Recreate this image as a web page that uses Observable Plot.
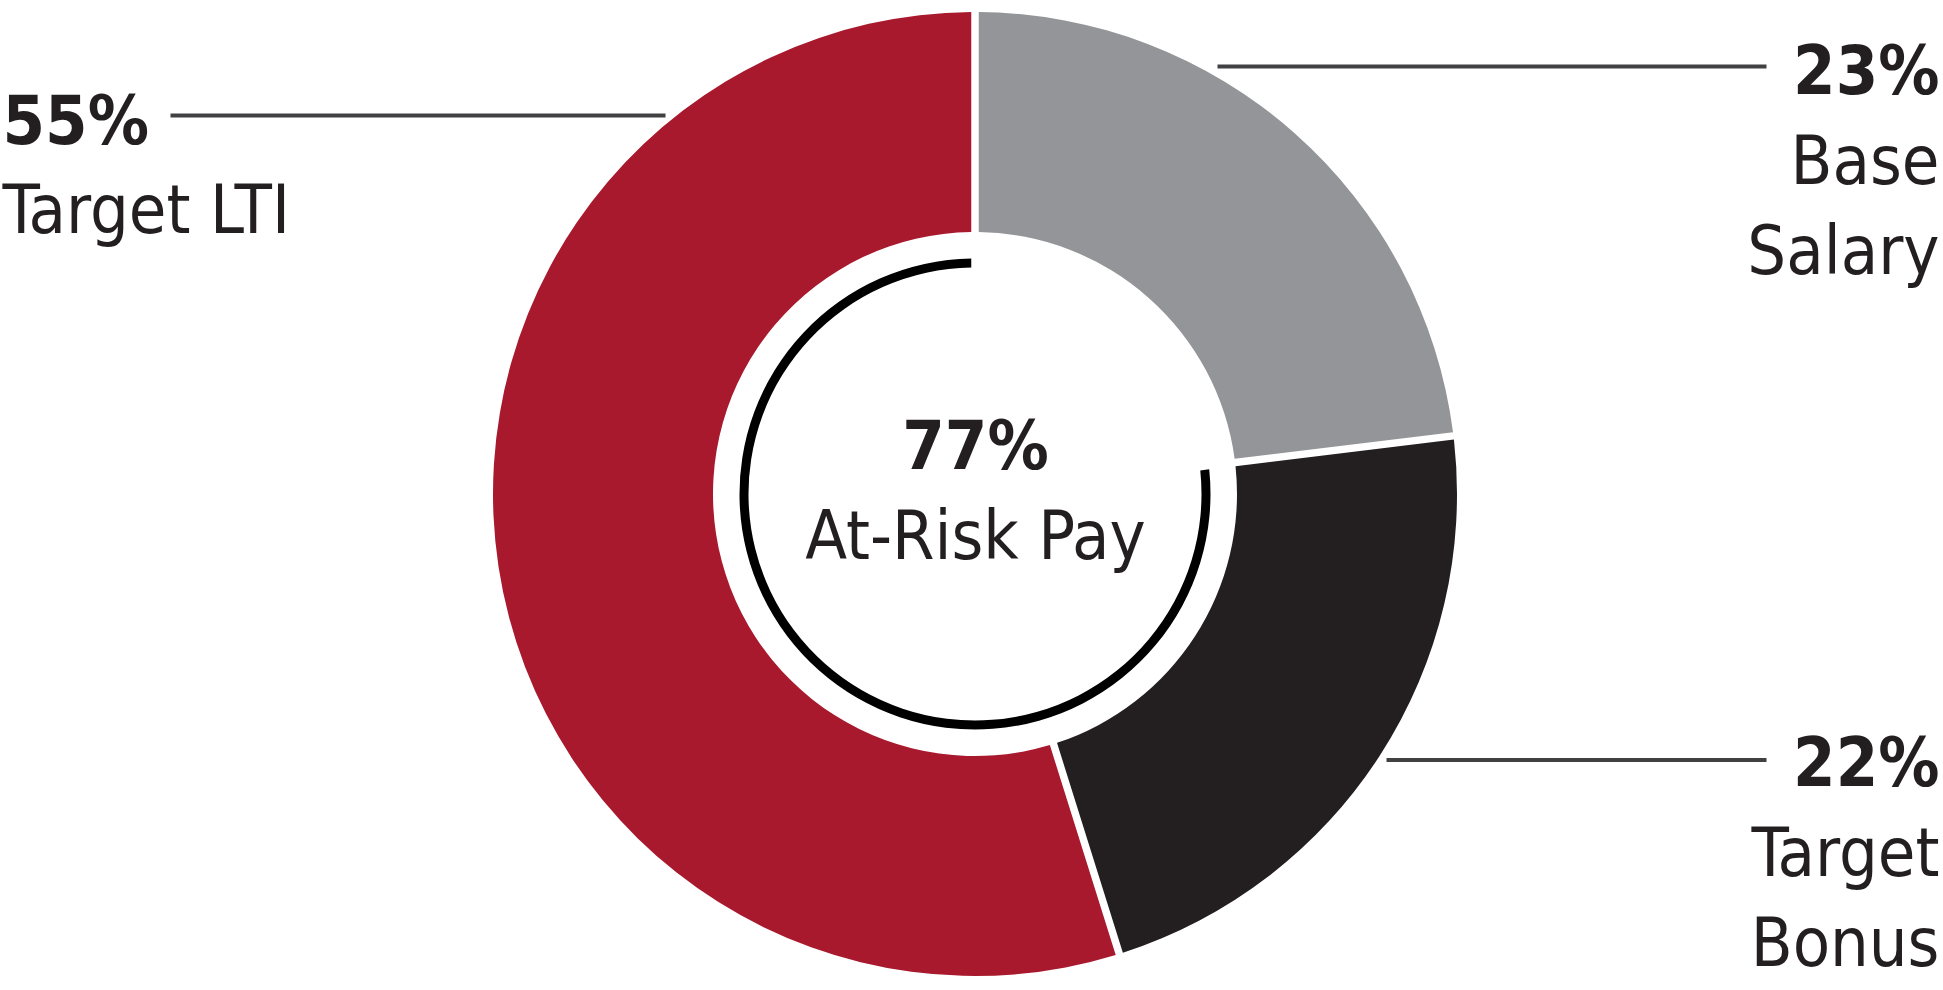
<!DOCTYPE html>
<html><head><meta charset="utf-8">
<script src="https://cdn.jsdelivr.net/npm/d3@7"></script>
<script src="https://cdn.jsdelivr.net/npm/@observablehq/plot@0.6"></script>
<style>
html,body{margin:0;padding:0;background:#fff;}
#chart svg{display:block;}
</style></head><body><div id="chart"></div>
<script>
// ---- data ----
const categories = ["Base Salary", "Target Bonus", "Target LTI"];
const values = [23, 22, 55];
const colors = ["#939598", "#231F20", "#A8192E"];
const labelLines = ["Base\nSalary", "Target\nBonus", "Target LTI"];
const centerValue = 77;
const centerLabel = "At-Risk Pay";

// ---- layout ----
const W = 1943, H = 990;
const cx = 975, cy = 494, R = 482, r0 = 262, ringR = 231, ringW = 9, gap = 7.5;
const layout = {
  "Base Salary":  {anchor: "end",   x: 1939, pctY: 93,  nameY: 273, lx1: 1217, lx2: 1766, ly: 66},
  "Target Bonus": {anchor: "end",   x: 1939, pctY: 785, nameY: 965, lx1: 1386, lx2: 1766, ly: 759.5},
  "Target LTI":   {anchor: "start", x: 2,    pctY: 143, nameY: 232, lx1: 170,  lx2: 665,  ly: 115}
};

const data = categories.map((c, i) => ({category: c, value: values[i], color: colors[i], label: labelLines[i]}));
const pie = d3.pie().sort(null).value(d => d.value).padAngle(gap / R);
const arcs = pie(data);

function donutMark(index, scales) {
  const g = d3.create("svg:g");
  const X = scales.x(cx), Y = scales.y(cy);
  const arc = d3.arc().innerRadius(r0).outerRadius(R).padRadius(R);
  g.selectAll("path.slice").data(arcs).join("path")
    .attr("class", "slice")
    .attr("transform", `translate(${X},${Y})`)
    .attr("d", arc)
    .attr("fill", d => d.data.color);
  // at-risk ring: covers all slices except base salary
  const riskStart = arcs[1].startAngle;
  const ringArc = d3.arc().innerRadius(ringR - ringW / 2).outerRadius(ringR + ringW / 2).padRadius(R);
  g.append("path")
    .attr("transform", `translate(${X},${Y})`)
    .attr("d", ringArc({startAngle: riskStart, endAngle: 2 * Math.PI, padAngle: gap / R}))
    .attr("fill", "#000");
  return g.node();
}

const FS = 68;
const textFill = "#231F20";
const L = d => layout[d.category];

const chart = Plot.plot({
  width: W, height: H,
  margin: 0,
  x: {domain: [0, W], range: [0, W], axis: null},
  y: {domain: [0, H], range: [0, H], axis: null},
  style: {fontFamily: "'DejaVu Sans Condensed', 'DejaVu Sans', sans-serif", fontStretch: "condensed", background: "#fff"},
  marks: [
    donutMark,
    Plot.link(data, {x1: d => L(d).lx1, x2: d => L(d).lx2, y1: d => L(d).ly, y2: d => L(d).ly, stroke: "#414042", strokeWidth: 4}),
    // percent labels
    Plot.text(data.filter(d => L(d).anchor === "end"), {x: d => L(d).x, y: d => L(d).pctY, text: d => d.value + "%", textAnchor: "end", lineAnchor: "bottom", fontSize: FS, fontWeight: "bold", fill: textFill, ariaLabel: "pct"}),
    Plot.text(data.filter(d => L(d).anchor === "start"), {x: d => L(d).x, y: d => L(d).pctY, text: d => d.value + "%", textAnchor: "start", lineAnchor: "bottom", fontSize: FS, fontWeight: "bold", fill: textFill, ariaLabel: "pct"}),
    // category names
    Plot.text(data.filter(d => L(d).anchor === "end"), {x: d => L(d).x, y: d => L(d).nameY, text: "label", textAnchor: "end", lineAnchor: "bottom", lineHeight: 90 / FS, fontSize: FS, fill: textFill}),
    Plot.text(data.filter(d => L(d).anchor === "start"), {x: d => L(d).x, y: d => L(d).nameY, text: "label", textAnchor: "start", lineAnchor: "bottom", lineHeight: 90 / FS, fontSize: FS, fill: textFill}),
    // center
    Plot.text([centerValue], {x: () => cx, y: () => 468, text: d => d + "%", textAnchor: "middle", lineAnchor: "bottom", fontSize: FS, fontWeight: "bold", fill: textFill, ariaLabel: "pct"}),
    Plot.text([centerLabel], {x: () => cx, y: () => 558, text: d => d, textAnchor: "middle", lineAnchor: "bottom", fontSize: FS, fill: textFill})
  ]
});

// percent sign in regular weight
d3.select(chart).selectAll('g[aria-label="pct"] text').each(function () {
  const t = this.textContent;
  const num = t.replace("%", "");
  const sel = d3.select(this);
  sel.text(null);
  sel.append("tspan").text(num);
  sel.append("tspan").attr("font-weight", "normal").attr("font-size", FS * 0.95).text("%");
});

document.getElementById("chart").appendChild(chart);
</script>
</body></html>
